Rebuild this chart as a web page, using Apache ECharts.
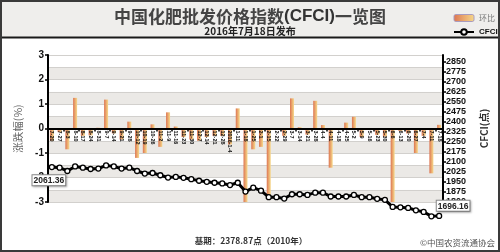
<!DOCTYPE html>
<html><head><meta charset="utf-8">
<script src="https://cdn.jsdelivr.net/npm/echarts@6/dist/echarts.min.js"></script>
<style>html,body{margin:0;padding:0;background:#fff}#c{width:500px;height:252px}</style>
</head><body><div id="c"></div>
<script>
const categories = ['7-20','7-27','8-3','8-10','8-17','8-24','8-31','9-7','9-14','9-21','9-28','10-12','10-19','10-26','11-2','11-9','11-16','11-23','11-30','12-7','12-14','12-21','12-28','2016-1-4','1-11','1-18','1-25','2-1','2-15','2-22','2-29','3-7','3-14','3-21','3-28','4-4','4-11','4-18','4-25','5-2','5-9','5-16','5-23','5-30','6-6','6-13','6-20','6-27','7-4','7-11','7-18'];
const changeValues = [-0.5,-0.15,-0.85,1.25,-0.3,-0.28,0.03,1.18,-0.2,-0.45,0.28,-1.2,-1.0,0.17,-0.75,0.66,0.08,-0.35,-0.45,-0.5,-0.35,-0.3,-0.3,-0.65,0.82,-3.05,-0.85,-0.75,-2.82,-0.05,-0.3,1.23,0.05,-0.25,1.13,0.14,-1.6,-0.02,0.24,0.48,-0.35,-0.05,-0.26,-0.33,-3.0,-0.1,-0.2,-1.0,-0.3,-1.83,0.15];
const cfciValues = [2061.36,2057,2032,2066,2057,2047,2050,2074,2066,2050,2057,2032,2013,2017,2000,1983,1988,1981,1971,1959,1951,1944,1939,1927,1944,1878,1907,1885,1836,1836,1826,1858,1858,1853,1870,1870,1841,1841,1841,1853,1836,1836,1824,1816,1763,1760,1756,1738,1726,1693,1696.16];
const leftTicks = {min:-3, max:3, interval:1};
const rightTicks = {min:1800, max:2900, interval:75};

const CJK = '"Noto Sans CJK SC", sans-serif';
const LAT = '"Liberation Sans", Arial, sans-serif';
const chart = echarts.init(document.getElementById('c'), null, {renderer:'canvas'});

const boxLabel = {
  show:true, fontFamily:LAT, fontWeight:'bold', fontSize:8.5, color:'#222',
  backgroundColor:'#fff', borderColor:'#8a8a8a', borderWidth:1, padding:[1,1,0,1],
  shadowColor:'rgba(0,0,0,0.25)', shadowBlur:2, shadowOffsetX:1, shadowOffsetY:1
};
const lineData = cfciValues.map((v,i)=>{
  if(i===0) return {value:v, label:Object.assign({}, boxLabel, {position:'bottom', distance:2, offset:[-3,3]})};
  if(i===cfciValues.length-1) return {value:v, label:Object.assign({}, boxLabel, {position:'top', distance:2, offset:[14,0]})};
  return v;
});

const barGrad = new echarts.graphic.LinearGradient(0,0,1,0,[
  {offset:0,color:'#dc7452'},{offset:0.5,color:'#eaa96e'},{offset:1,color:'#f6d88a'}]);

const option = {
  animation:false,
  backgroundColor:'#fff',
  graphic:[
    {type:'rect', z:0, shape:{x:0,y:0,width:500,height:37}, style:{fill:'#efeeec'}},
    {type:'line', z:1, shape:{x1:0,y1:37.5,x2:500,y2:37.5}, style:{stroke:'#1a1a1a', lineWidth:2}},
    {type:'rect', z:1, shape:{x:1,y:1,width:498,height:250}, style:{fill:'none', stroke:'#3a3a3a', lineWidth:2}},
    {type:'text', z:2, x:251, y:241, style:{text:'基期：2378.87点（2010年）', font:'bold 8.5px "Noto Sans CJK SC"', fill:'#333', align:'center', verticalAlign:'middle'}},
    {type:'text', z:2, x:495, y:243, style:{text:'©中国农资流通协会', font:'8.5px "Noto Sans CJK SC"', fill:'#555', align:'right', verticalAlign:'middle'}}
  ],
  title:[
    {text:'{a|中国化肥批发价格指数}{b|(CFCI)}{a|一览图}', left:'center', top:3, z:6,
     textStyle:{rich:{a:{fontFamily:CJK, fontSize:17, color:'#444'}, b:{fontFamily:LAT, fontWeight:'bold', fontSize:17, color:'#333'}}}},
    {text:'2016年7月18日发布', left:'center', top:21, z:6,
     textStyle:{fontFamily:CJK, fontSize:10, fontWeight:'bold', color:'#222'}}
  ],
  legend:{
    orient:'vertical', left:448, top:9, itemWidth:20, itemHeight:7, itemGap:6,
    data:[
      {name:'环比', itemStyle:{borderColor:'#a89bbf', borderWidth:1}, textStyle:{color:'#777', fontSize:8, fontFamily:CJK}},
      {name:'CFCI', textStyle:{color:'#111', fontSize:8, fontWeight:'bold', fontFamily:LAT}}
    ]
  },
  grid:{left:48, right:57, top:55, bottom:50},
  xAxis:{
    type:'category', data:categories, z:5, position:'bottom', offset:-73.5,
    axisLine:{onZero:false, lineStyle:{color:'#000', width:2}},
    axisTick:{show:true, interval:1, length:3, lineStyle:{color:'#000', width:1.5}},
    axisLabel:{interval:0, rotate:-90, fontSize:5.5, fontWeight:'bold', color:'#111', fontFamily:LAT, margin:2},
    splitLine:{show:false}
  },
  yAxis:[
    {type:'value', position:'left', min:leftTicks.min, max:leftTicks.max, interval:leftTicks.interval,
     name:'涨跌幅(%)', nameLocation:'middle', nameRotate:90, nameGap:25,
     nameTextStyle:{fontFamily:CJK, fontSize:10.5, color:'#666'},
     axisLine:{show:true, lineStyle:{color:'#000', width:2}},
     axisTick:{show:true, length:3, lineStyle:{color:'#000', width:1.5}},
     axisLabel:{fontFamily:LAT, fontWeight:'bold', fontSize:10, color:'#111', margin:4},
     splitLine:{show:false}, z:4},
    {type:'value', position:'right', min:rightTicks.min, max:rightTicks.max, interval:rightTicks.interval,
     name:'CFCI(点)', nameLocation:'middle', nameRotate:90, nameGap:36,
     nameTextStyle:{fontFamily:CJK, fontSize:10, fontWeight:'bold', color:'#333'},
     axisLine:{show:true, lineStyle:{color:'#000', width:2}},
     axisTick:{show:true, length:3, lineStyle:{color:'#000', width:1.5}},
     axisLabel:{fontFamily:LAT, fontWeight:'bold', fontSize:9, color:'#111', margin:3, showMaxLabel:false,
                formatter:v=>String(v)},
     splitLine:{show:false}},
    {type:'value', position:'left', min:-3, max:3, interval:0.5,
     axisLine:{show:false}, axisTick:{show:false}, axisLabel:{show:false},
     splitLine:{show:true, lineStyle:{color:'#d2d0cd', width:1}},
     splitArea:{show:true, areaStyle:{color:['#ebe9e6','#ffffff']}}}
  ],
  series:[
    {name:'环比', type:'bar', yAxisIndex:0, data:changeValues, barWidth:4, z:2,
     itemStyle:{color:barGrad}},
    {name:'CFCI', type:'line', yAxisIndex:1, data:lineData, clip:false, z:6,
     symbol:'circle', symbolSize:5, showAllSymbol:true,
     itemStyle:{color:'#fff', borderColor:'#000', borderWidth:1.3},
     lineStyle:{color:'#000', width:3}}
  ]
};
chart.setOption(option);
</script></body></html>
